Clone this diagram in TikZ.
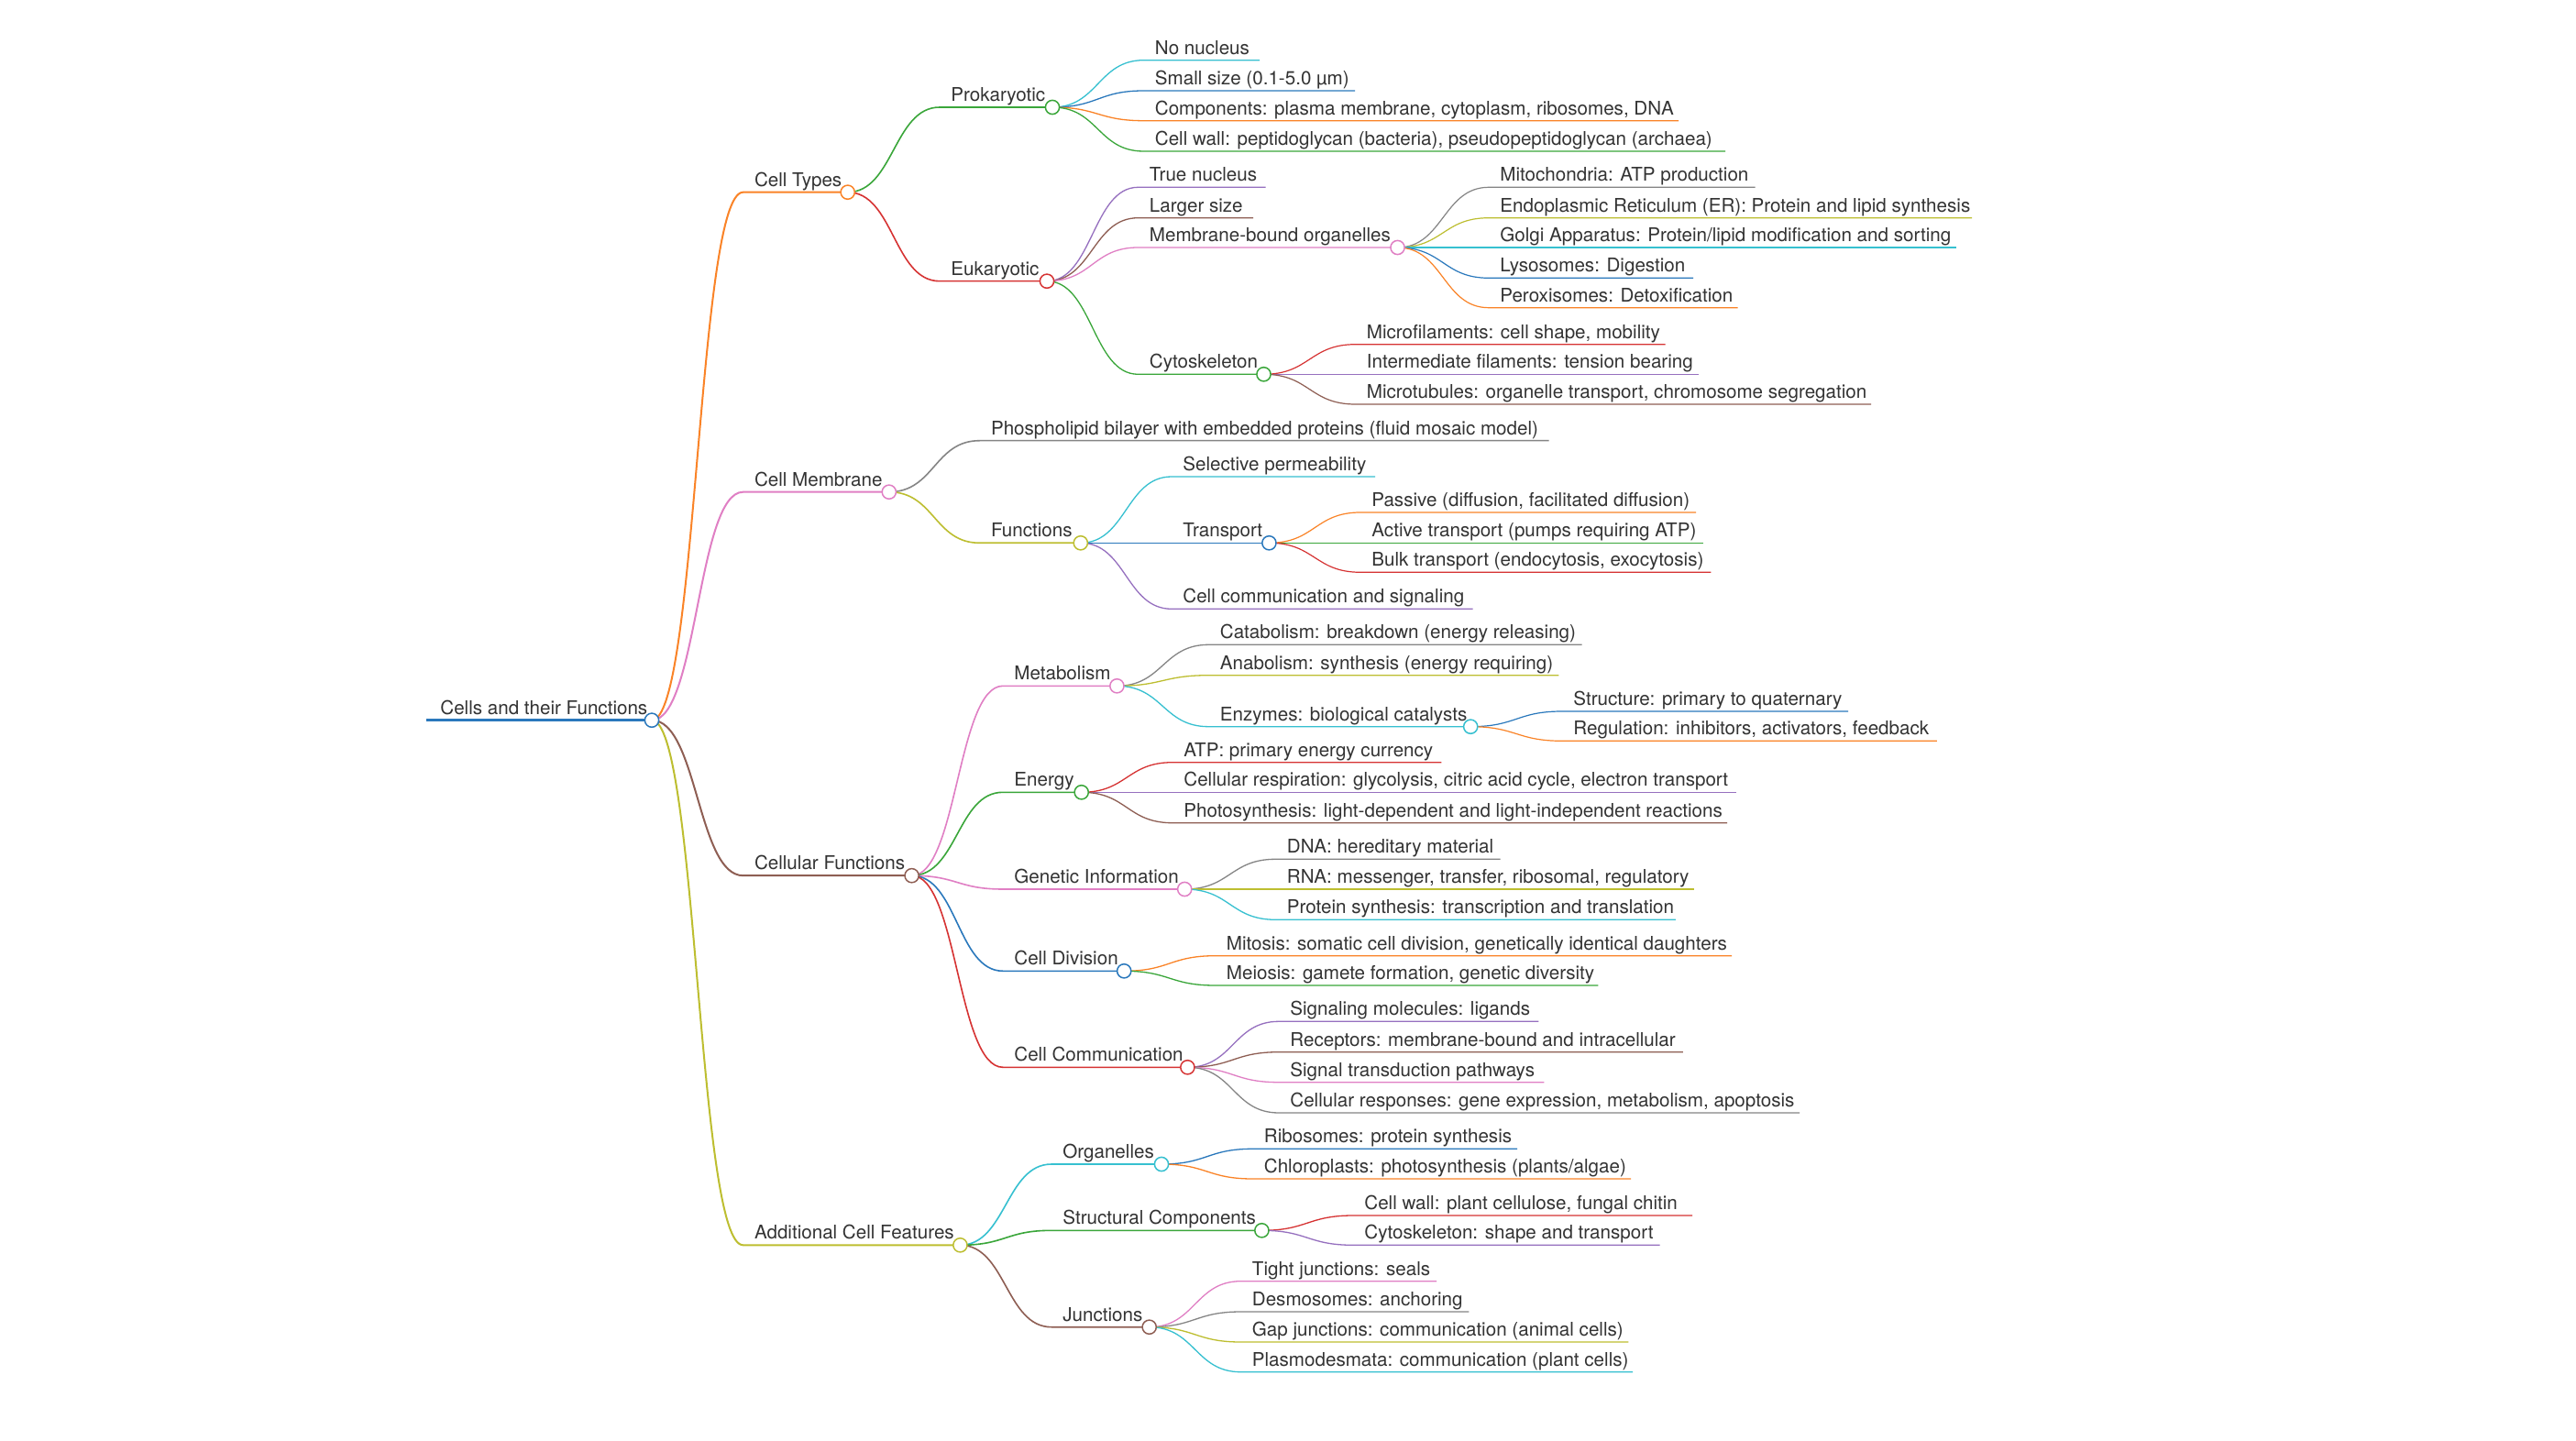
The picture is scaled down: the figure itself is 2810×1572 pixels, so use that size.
\documentclass[tikz,border=0pt]{standalone}
\usepackage{fontspec}
\setmainfont{TeX Gyre Heros}
\usetikzlibrary{calc}
\definecolor{cBlue}{HTML}{2A78BC}
\definecolor{cOrange}{HTML}{FA8327}
\definecolor{cGreen}{HTML}{3AA63A}
\definecolor{cRed}{HTML}{D63333}
\definecolor{cPurple}{HTML}{9670BF}
\definecolor{cBrown}{HTML}{8E5E53}
\definecolor{cPink}{HTML}{E07FC4}
\definecolor{cGray}{HTML}{858585}
\definecolor{cOlive}{HTML}{BDBE30}
\definecolor{cCyan}{HTML}{36C0D0}
\definecolor{txt}{HTML}{333333}
\tikzset{
  lbl/.style={anchor=base west, inner sep=0pt, text=txt, font=\fontsize{10.3pt}{12pt}\selectfont},
  dzero/.style={line width=1.25pt},
  done/.style={line width=1.0pt},
  dtwo/.style={line width=0.8pt},
  dthree/.style={line width=0.65pt},
  dfour/.style={line width=0.6pt},
  dot/.style={circle, fill=white, inner sep=0pt, minimum size=7.6pt, line width=0.75pt},
}
% #1 name, #2 parent, #3 colour, #4 depth style, #5 text x, #6 line y, #7 line end x, #8 text
\newcommand{\mmn}[8]{%
  \coordinate (#1s) at ({#5-12},#6);
  \coordinate (#1) at (#7,#6);
  \draw[#3,#4] let \p1=(#2), \p2=(#1s) in (\p1) .. controls ({0.5*\x1+0.5*\x2},\y1) and ({0.5*\x1+0.5*\x2},\y2) .. (\p2) -- (#1);
  \node[lbl] (#1t) at (#5,{#6-6.5}) {#8};
}
\begin{document}
\begin{tikzpicture}[x=0.5pt,y=-0.5pt]
\fill[white] (0,0) rectangle (2810,1572);
\useasboundingbox (0,0) rectangle (2810,1572);
% root
\coordinate (Rs) at (465,785.7);
\coordinate (R) at (711,785.7);
\draw[cBlue,dzero] (Rs) -- (R);
\node[lbl] (Rt) at (480,779.2) {Cells and their Functions};
% level 1
\mmn{CT}{R}{cOrange}{done}{822.6}{209.7}{924.7}{Cell Types}
\mmn{CM}{R}{cPink}{done}{822.6}{536.7}{969.8}{Cell Membrane}
\mmn{CF}{R}{cBrown}{done}{822.6}{955.2}{994.6}{Cellular Functions}
\mmn{AF}{R}{cOlive}{done}{822.6}{1358.3}{1047.4}{Additional Cell Features}
% level 2
\mmn{PK}{CT}{cGreen}{dtwo}{1037}{117}{1148}{Prokaryotic}
\mmn{EK}{CT}{cRed}{dtwo}{1037}{306.7}{1142}{Eukaryotic}
\mmn{PH}{CM}{cGray}{dtwo}{1080.6}{480.7}{1689.5}{Phospholipid bilayer with embedded proteins (fluid mosaic model)}
\mmn{FN}{CM}{cOlive}{dtwo}{1080.6}{592.3}{1178.8}{Functions}
\mmn{MB}{CF}{cPink}{dtwo}{1106}{748.3}{1218.4}{Metabolism}
\mmn{EN}{CF}{cGreen}{dtwo}{1106}{864.3}{1179.7}{Energy}
\mmn{GI}{CF}{cPink}{dtwo}{1106}{970}{1292.2}{Genetic Information}
\mmn{CD}{CF}{cBlue}{dtwo}{1106}{1059.3}{1226.2}{Cell Division}
\mmn{CC}{CF}{cRed}{dtwo}{1106}{1164.3}{1295.4}{Cell Communication}
\mmn{OR}{AF}{cCyan}{dtwo}{1159}{1270}{1267}{Organelles}
\mmn{SC}{AF}{cGreen}{dtwo}{1159}{1342.3}{1376.4}{Structural Components}
\mmn{JN}{AF}{cBrown}{dtwo}{1159}{1447.7}{1253.7}{Junctions}
% level 3
\mmn{PKa}{PK}{cCyan}{dthree}{1259.5}{65.7}{1374}{No nucleus}
\mmn{PKb}{PK}{cBlue}{dthree}{1259.5}{99}{1478}{Small size (0.1-5.0 µm)}
\mmn{PKc}{PK}{cOrange}{dthree}{1259.5}{131.7}{1831}{Components: plasma membrane, cytoplasm, ribosomes, DNA}
\mmn{PKd}{PK}{cGreen}{dthree}{1259.5}{165}{1882}{Cell wall: peptidoglycan (bacteria), pseudopeptidoglycan (archaea)}
\mmn{EKa}{EK}{cPurple}{dthree}{1253.5}{204.3}{1380.6}{True nucleus}
\mmn{EKb}{EK}{cBrown}{dthree}{1253.5}{237.7}{1367}{Larger size}
\mmn{MO}{EK}{cPink}{dthree}{1253.5}{270}{1524.5}{Membrane-bound organelles}
\mmn{CY}{EK}{cGreen}{dthree}{1253.5}{408.3}{1378.5}{Cytoskeleton}
\mmn{FNa}{FN}{cCyan}{dthree}{1290}{520}{1500}{Selective permeability}
\mmn{TR}{FN}{cBlue}{dthree}{1290}{592.3}{1384.4}{Transport}
\mmn{FNc}{FN}{cPurple}{dthree}{1290}{664.3}{1606.7}{Cell communication and signaling}
\mmn{MBa}{MB}{cGray}{dthree}{1330.5}{703.3}{1725.6}{Catabolism: breakdown (energy releasing)}
\mmn{MBb}{MB}{cOlive}{dthree}{1330.5}{736.7}{1700.3}{Anabolism: synthesis (energy requiring)}
\mmn{EZ}{MB}{cCyan}{dthree}{1330.5}{792.7}{1604.2}{Enzymes: biological catalysts}
\mmn{ENa}{EN}{cRed}{dthree}{1291}{831.7}{1572.3}{ATP: primary energy currency}
\mmn{ENb}{EN}{cPurple}{dthree}{1291}{864.3}{1893.8}{Cellular respiration: glycolysis, citric acid cycle, electron transport}
\mmn{ENc}{EN}{cBrown}{dthree}{1291}{897.7}{1884}{Photosynthesis: light-dependent and light-independent reactions}
\mmn{GIa}{GI}{cGray}{dthree}{1403.5}{937.3}{1636.6}{DNA: hereditary material}
\mmn{GIb}{GI}{cOlive}{dthree}{1403.5}{970}{1847.8}{RNA: messenger, transfer, ribosomal, regulatory}
\mmn{GIc}{GI}{cCyan}{dthree}{1403.5}{1003.3}{1827.8}{Protein synthesis: transcription and translation}
\mmn{CDa}{CD}{cOrange}{dthree}{1337.5}{1042.7}{1889.2}{Mitosis: somatic cell division, genetically identical daughters}
\mmn{CDb}{CD}{cGreen}{dthree}{1337.5}{1075}{1743.4}{Meiosis: gamete formation, genetic diversity}
\mmn{CCa}{CC}{cPurple}{dthree}{1407}{1114.3}{1678.3}{Signaling molecules: ligands}
\mmn{CCb}{CC}{cBrown}{dthree}{1407}{1147.7}{1835.8}{Receptors: membrane-bound and intracellular}
\mmn{CCc}{CC}{cPink}{dthree}{1407}{1180.7}{1684.4}{Signal transduction pathways}
\mmn{CCd}{CC}{cGray}{dthree}{1407}{1214}{1963}{Cellular responses: gene expression, metabolism, apoptosis}
\mmn{ORa}{OR}{cBlue}{dthree}{1378.5}{1253.3}{1655}{Ribosomes: protein synthesis}
\mmn{ORb}{OR}{cOrange}{dthree}{1378.5}{1286}{1779}{Chloroplasts: photosynthesis (plants/algae)}
\mmn{SCa}{SC}{cRed}{dthree}{1488}{1326}{1846}{Cell wall: plant cellulose, fungal chitin}
\mmn{SCb}{SC}{cPurple}{dthree}{1488}{1358.3}{1810.7}{Cytoskeleton: shape and transport}
\mmn{JNa}{JN}{cPink}{dthree}{1365.5}{1397.7}{1567}{Tight junctions: seals}
\mmn{JNb}{JN}{cGray}{dthree}{1365.5}{1431}{1602.3}{Desmosomes: anchoring}
\mmn{JNc}{JN}{cOlive}{dthree}{1365.5}{1464}{1776.3}{Gap junctions: communication (animal cells)}
\mmn{JNd}{JN}{cCyan}{dthree}{1365.5}{1496.7}{1781}{Plasmodesmata: communication (plant cells)}
% level 4
\mmn{MOa}{MO}{cGray}{dfour}{1636}{204.3}{1914.6}{Mitochondria: ATP production}
\mmn{MOb}{MO}{cOlive}{dfour}{1636}{237.7}{2151}{Endoplasmic Reticulum (ER): Protein and lipid synthesis}
\mmn{MOc}{MO}{cCyan}{dfour}{1636}{270}{2134}{Golgi Apparatus: Protein/lipid modification and sorting}
\mmn{MOd}{MO}{cBlue}{dfour}{1636}{303.3}{1847}{Lysosomes: Digestion}
\mmn{MOe}{MO}{cOrange}{dfour}{1636}{335.7}{1895.7}{Peroxisomes: Detoxification}
\mmn{CYa}{CY}{cRed}{dfour}{1490.5}{375.7}{1816.6}{Microfilaments: cell shape, mobility}
\mmn{CYb}{CY}{cPurple}{dfour}{1490.5}{408.3}{1852.5}{Intermediate filaments: tension bearing}
\mmn{CYc}{CY}{cBrown}{dfour}{1490.5}{441}{2041}{Microtubules: organelle transport, chromosome segregation}
\mmn{TRa}{TR}{cOrange}{dfour}{1496}{559}{1850}{Passive (diffusion, facilitated diffusion)}
\mmn{TRb}{TR}{cGreen}{dfour}{1496}{592.3}{1857.9}{Active transport (pumps requiring ATP)}
\mmn{TRc}{TR}{cRed}{dfour}{1496}{624.3}{1866.3}{Bulk transport (endocytosis, exocytosis)}
\mmn{EZa}{EZ}{cBlue}{dfour}{1716}{776}{2016}{Structure: primary to quaternary}
\mmn{EZb}{EZ}{cOrange}{dfour}{1716}{808.3}{2112.8}{Regulation: inhibitors, activators, feedback}
% circles on internal nodes
\foreach \n/\c in {R/cBlue, CT/cOrange, CM/cPink, CF/cBrown, AF/cOlive,
  PK/cGreen, EK/cRed, FN/cOlive, MB/cPink, EN/cGreen, GI/cPink, CD/cBlue, CC/cRed,
  OR/cCyan, SC/cGreen, JN/cBrown, MO/cPink, CY/cGreen, TR/cBlue, EZ/cCyan}
  \node[dot, draw=\c] (\n-c) at (\n) {};
\end{tikzpicture}
\end{document}
